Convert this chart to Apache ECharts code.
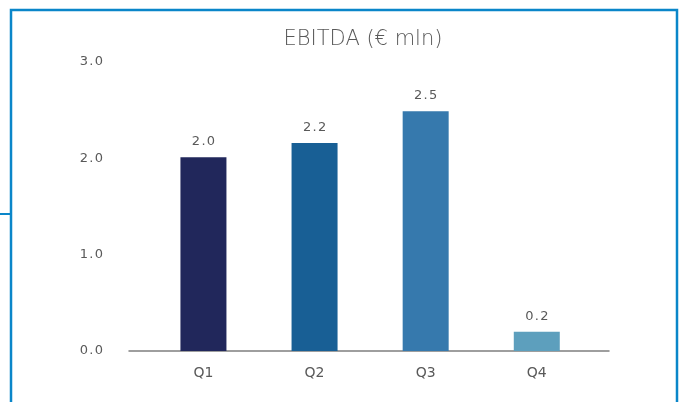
<!DOCTYPE html>
<html>
<head>
<meta charset="utf-8">
<script src="https://cdn.jsdelivr.net/npm/echarts@6/dist/echarts.min.js"></script>
<style>html,body{margin:0;padding:0;background:#fff}#c{width:682px;height:402px}</style>
</head>
<body>
<div id="c"></div>
<script>
const categories = ['Q1', 'Q2', 'Q3', 'Q4'];
const values = [2.01, 2.16, 2.49, 0.2];
const barColors = ['#21275b', '#185f95', '#3679ad', '#5d9fbd'];
const yTicks = [0, 1, 2, 3];

const chart = echarts.init(document.getElementById('c'));
const FONT = '"DejaVu Sans", "Noto Sans", sans-serif';
const sp = s => s.split('').join('\u200A');
chart.setOption({
  animation: false,
  title: {
    text: 'EBITDA (€ mln)',
    left: 358, top: 24, textAlign: 'center',
    textStyle: { fontFamily: FONT, fontSize: 21, fontWeight: 200, color: '#595959' }
  },
  graphic: [
    { type: 'rect', shape: { x: 11, y: 10, width: 666, height: 420 },
      style: { fill: 'none', stroke: '#0a86c9', lineWidth: 2.5 }, silent: true },
    { type: 'line', shape: { x1: 0, y1: 214, x2: 12, y2: 214 },
      style: { stroke: '#0a86c9', lineWidth: 2 }, silent: true }
  ],
  grid: { left: 129, right: 73, top: 62, bottom: 51 },
  xAxis: {
    type: 'value', min: -0.67, max: 3.65,
    splitLine: { show: false },
    axisTick: { show: false },
    axisLine: { show: true, onZero: false, lineStyle: { color: '#7f7f7f', width: 1.5 } },
    axisLabel: {
      customValues: [0, 1, 2, 3],
      formatter: v => categories[Math.round(v)] || '',
      margin: 15, fontFamily: FONT, fontSize: 14, color: '#595959'
    }
  },
  yAxis: {
    type: 'value', min: 0, max: 3, interval: 1,
    splitLine: { show: false },
    axisLine: { show: false }, axisTick: { show: false },
    axisLabel: {
      customValues: yTicks,
      formatter: v => sp(v.toFixed(1)),
      margin: 26, fontFamily: FONT, fontSize: 13, color: '#595959'
    }
  },
  series: [{
    type: 'bar',
    barWidth: 46,
    z: 1,
    data: values.map((v, i) => ({ value: [i, v], itemStyle: { color: barColors[i] } })),
    label: {
      show: true, position: 'top', distance: 9,
      formatter: p => sp(p.value[1].toFixed(1)),
      fontFamily: FONT, fontSize: 13, color: '#595959'
    }
  }]
});
</script>
</body>
</html>
